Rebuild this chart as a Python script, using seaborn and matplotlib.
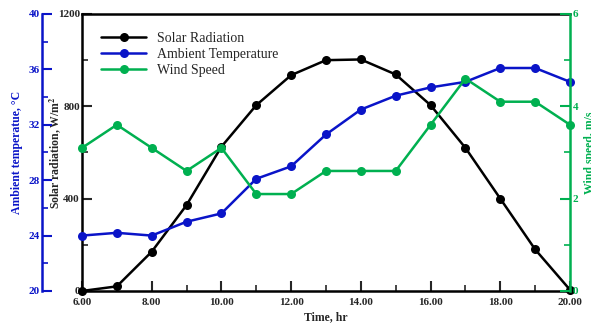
"""
Solar radiation, ambient temperature and wind speed over the day.
Three y axes: temperature (outer left), radiation (left), wind (right).
"""

import pandas as pd
import matplotlib
matplotlib.use("Agg")
import matplotlib.pyplot as plt
import matplotlib.ticker as mticker
from matplotlib.lines import Line2D
import seaborn as sns

# ── Data ───────────────────────────────────────────────────────────────────────
hours = [6, 7, 8, 9, 10, 11, 12, 13, 14, 15, 16, 17, 18, 19, 20]
solar = [0, 20, 170, 372, 625, 805, 935, 1000, 1003, 938, 805, 620, 400, 180, 5]
temperature = [24.0, 24.2, 24.0, 25.0, 25.6, 28.1, 29.0, 31.3, 33.1, 34.1,
               34.7, 35.1, 36.1, 36.1, 35.1]
wind = [3.1, 3.6, 3.1, 2.6, 3.1, 2.1, 2.1, 2.6, 2.6, 2.6, 3.6, 4.6, 4.1, 4.1, 3.6]

df = pd.DataFrame({"hour": hours, "solar": solar,
                   "temp": temperature, "wind": wind})

BLACK = "#000000"
BLUE = "#0A14C8"
GREEN = "#00B050"

# ── Style ──────────────────────────────────────────────────────────────────────
sns.set_style("ticks")
plt.rcParams.update({
    "font.family": ["Liberation Serif", "DejaVu Serif"],
    "mathtext.fontset": "stix",
    "xtick.direction": "in",
    "ytick.direction": "in",
})

TICK_FS = 8
LABEL_FS = 8.5

fig = plt.figure(figsize=(5.91, 3.24), dpi=100)
ax = fig.add_axes([0.1387, 0.1019, 0.8258, 0.8549])
ax_t = ax.twinx()
ax_w = ax.twinx()

line_kw = dict(marker="o", markersize=6.5, linewidth=1.8, markeredgewidth=0,
               clip_on=False, legend=False)

sns.lineplot(data=df, x="hour", y="solar", color=BLACK, ax=ax, **line_kw)
sns.lineplot(data=df, x="hour", y="temp", color=BLUE, ax=ax_t, **line_kw)
sns.lineplot(data=df, x="hour", y="wind", color=GREEN, ax=ax_w, **line_kw)

# ── Main axis (solar) ──────────────────────────────────────────────────────────
ax.set_xlim(6, 20)
ax.set_ylim(0, 1200)
ax.xaxis.set_major_locator(mticker.MultipleLocator(2))
ax.xaxis.set_minor_locator(mticker.MultipleLocator(1))
ax.xaxis.set_major_formatter(mticker.FormatStrFormatter("%.2f"))
ax.yaxis.set_major_locator(mticker.MultipleLocator(400))
ax.yaxis.set_minor_locator(mticker.MultipleLocator(200))
for s in ["left", "bottom", "top"]:
    ax.spines[s].set_linewidth(1.8)
    ax.spines[s].set_color(BLACK)
ax.spines["right"].set_visible(False)
ax.tick_params(which="major", length=7, width=1.5, labelsize=TICK_FS, pad=1.5)
ax.tick_params(which="minor", length=4, width=1.2)
ax.tick_params(axis="x", pad=5)
for lbl in ax.get_xticklabels() + ax.get_yticklabels():
    lbl.set_fontweight("bold")
ax.set_xlabel("Time, hr", fontsize=LABEL_FS, fontweight="bold", labelpad=3)
ax.set_ylabel("Solar radiation, W/m$^\\mathbf{2}$", fontsize=LABEL_FS,
              fontweight="bold")
ax.yaxis.set_label_coords(-0.039, 0.5)

# ── Temperature axis (outer left, blue) ────────────────────────────────────────
ax_t.set_ylim(20, 40)
ax_t.yaxis.set_ticks_position("left")
ax_t.yaxis.set_label_position("left")
ax_t.spines["left"].set_position(("axes", -0.082))
ax_t.spines["left"].set_visible(True)
ax_t.spines["left"].set_color(BLUE)
ax_t.spines["left"].set_linewidth(1.8)
for s in ["right", "top", "bottom"]:
    ax_t.spines[s].set_visible(False)
ax_t.yaxis.set_major_locator(mticker.MultipleLocator(4))
ax_t.yaxis.set_minor_locator(mticker.MultipleLocator(2))
ax_t.tick_params(axis="y", which="major", length=7, width=1.5, color=BLUE,
                 labelcolor=BLUE, labelsize=TICK_FS, pad=1.5)
ax_t.tick_params(axis="y", which="minor", length=4, width=1.2, color=BLUE)
for lbl in ax_t.get_yticklabels():
    lbl.set_fontweight("bold")
ax_t.set_ylabel("Ambient temperatue, \u00b0C", fontsize=LABEL_FS,
                fontweight="bold", color=BLUE)
ax_t.yaxis.set_label_coords(-0.121, 0.5)

# ── Wind axis (right, green) ──────────────────────────────────────────────────
ax_w.set_ylim(0, 6)
for s in ["left", "top", "bottom"]:
    ax_w.spines[s].set_visible(False)
ax_w.spines["right"].set_color(GREEN)
ax_w.spines["right"].set_linewidth(1.8)
ax_w.yaxis.set_major_locator(mticker.MultipleLocator(2))
ax_w.yaxis.set_minor_locator(mticker.MultipleLocator(1))
ax_w.tick_params(axis="y", which="major", length=7, width=1.5, color=GREEN,
                 labelcolor=GREEN, labelsize=TICK_FS, pad=2)
ax_w.tick_params(axis="y", which="minor", length=4, width=1.2, color=GREEN)
for lbl in ax_w.get_yticklabels():
    lbl.set_fontweight("bold")
ax_w.set_ylabel("Wind speed, m/s", fontsize=LABEL_FS, fontweight="bold",
                color=GREEN, labelpad=4)

# ── Legend ─────────────────────────────────────────────────────────────────────
handles = [Line2D([], [], color=c, marker="o", markersize=6.5, linewidth=1.8,
                  markeredgewidth=0) for c in (BLACK, BLUE, GREEN)]
ax_w.legend(handles, ["Solar Radiation", "Ambient Temperature", "Wind Speed"],
            loc="upper left", bbox_to_anchor=(0.02, 0.97), frameon=False,
            fontsize=10, handlelength=3.2, handletextpad=0.8,
            labelspacing=0.2, borderaxespad=0.3)

fig.savefig("out.png", dpi=100)
